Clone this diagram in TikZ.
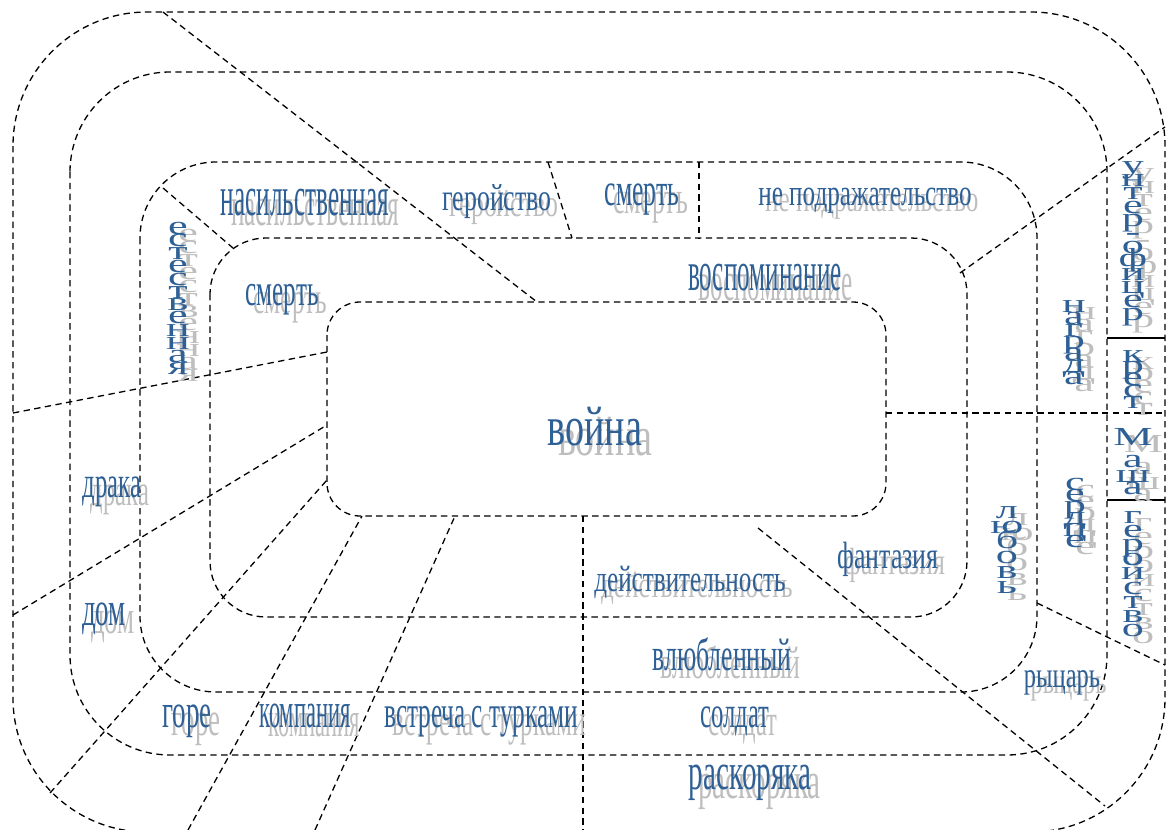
\documentclass[tikz,border=0pt]{standalone}
\usepackage{fontspec}
\usepackage{graphicx}
\setmainfont{Liberation Serif}
\newfontfamily\narrowfont[FakeStretch=0.45]{Liberation Serif}
\newfontfamily\condfont[FakeStretch=0.56]{Liberation Serif}
\newfontfamily\midfont[FakeStretch=0.68]{Liberation Serif}
\definecolor{wordblue}{RGB}{46,96,150}
\definecolor{shadowgray}{RGB}{190,190,190}

\newcommand{\shadowed}[1]{\rlap{\hspace*{0.4ex}\raisebox{-0.4ex}[0pt][0pt]{\color{shadowgray}#1}}#1}
\newcommand{\vshadowed}[1]{\scalebox{1.7}[1]{\rlap{\hspace*{3pt}\raisebox{-3.5pt}[0pt][0pt]{\color{shadowgray}#1}}#1}}

\begin{document}
\begin{tikzpicture}[x=0.5pt,y=-0.5pt,
    word/.style 2 args={font=#1\fontsize{#2}{#2}\selectfont, text=wordblue, anchor=base, inner sep=0pt}]
    \tikzstyle{ring}=[draw=black, line width=0.65pt, dash pattern=on 3.2pt off 2.2pt]
    \tikzstyle{bar}=[draw=black, line width=1pt]
    \tikzstyle{vletter}=[font=\fontsize{13}{13}\selectfont, text=wordblue, anchor=base, inner sep=0pt]
    \useasboundingbox (0,0) rectangle (1174,830);

    % nested rings
    \foreach \l/\t/\r/\b/\rad in {13/12/1165/832/67, 70/72/1107/755/50, 140/162/1037/692/38, 210/238/967/617/28, 327/302/886/516/16.5}
        \draw[ring, rounded corners=\rad pt] (\l,\t) rectangle (\r,\b);

    % dividers
    \foreach \ax/\ay/\bx/\by in {163/12/537/302, 163/188/233/248, 13/413/327/352, 13/615/327/425,
            50/793/327/480, 188/830/362/516, 315/830/455/516, 583/516/583/830, 758/528/1105/806,
            1037/603/1165/665, 886/413/1165/413, 960/273/1165/127, 548/162/572/238, 699/162/699/238}
        \draw[ring] (\ax,\ay) -- (\bx,\by);
    \draw[bar] (1107,338) -- (1165,338);
    \draw[bar] (1107,500) -- (1165,500);

    % words
    \node[word={\midfont}{28}] (voyna) at (595,445) {\shadowed{война}};
    \node[word={\narrowfont}{28}] (nasil) at (305,215) {\shadowed{насильственная}};
    \node[word={\midfont}{19}] (geroy) at (497,210) {\shadowed{геройство}};
    \node[word={\condfont}{23}] (smert-top) at (642,205) {\shadowed{смерть}};
    \node[word={\midfont}{18.5}] (nepodr) at (865,205) {\shadowed{не подражательство}};
    \node[word={\narrowfont}{28}] (vospom) at (765,290) {\shadowed{воспоминание}};
    \node[word={\condfont}{22.5}] (smert-left) at (282,305) {\shadowed{смерть}};
    \node[word={\condfont}{22}] (draka) at (112,497) {\shadowed{драка}};
    \node[word={\condfont}{24}] (dom) at (104,625) {\shadowed{дом}};
    \node[word={\condfont}{24}] (gore) at (187,727) {\shadowed{горе}};
    \node[word={\narrowfont}{25}] (kompan) at (305,727) {\shadowed{компания}};
    \node[word={\condfont}{22.5}] (vstrecha) at (481,727) {\shadowed{встреча с турками}};
    \node[word={\condfont}{22}] (soldat) at (735,727) {\shadowed{солдат}};
    \node[word={\condfont}{26}] (raskor) at (750,789) {\shadowed{раскоряка}};
    \node[word={\condfont}{23}] (vlyubl) at (722,670) {\shadowed{влюбленный}};
    \node[word={\midfont}{18.5}] (deystv) at (690,591) {\shadowed{действительность}};
    \node[word={\midfont}{19}] (fantaz) at (888,568) {\shadowed{фантазия}};
    \node[word={\midfont}{18}] (rytsar) at (1062,687) {\shadowed{рыцарь}};

    % stacked words, one letter under the other
    \foreach \ch [count=\i] in {е,с,т,е,с,т,в,е,н,н,а,я}
        \node[vletter] (estestv-\i) at (178,221.2+\i*12.8) {\vshadowed{\ch}};
    \foreach \ch [count=\i] in {л,ю,б,о,в,ь}
        \node[vletter] (lyubov-\i) at (1007,503+\i*15) {\vshadowed{\ch}};
    \foreach \ch [count=\i] in {с,е,р,д,ц,е}
        \node[vletter] (serdtse-\i) at (1075,478.5+\i*11.5) {\vshadowed{\ch}};
    \foreach \ch [count=\i] in {н,а,г,р,а,д,а}
        \node[vletter] (nagrada-\i) at (1074,300+\i*12) {\vshadowed{\ch}};
    \foreach \ch [count=\i] in {у,н,т,е,р,-,о,ф,и,ц,е,р}
        \node[vletter] (unter-\i) at (1133,159.6+\i*13.4) {\vshadowed{\ch}};
    \foreach \ch [count=\i] in {к,р,е,с,т}
        \node[vletter] (krest-\i) at (1133,350.3+\i*11.7) {\vshadowed{\ch}};
    \foreach \ch/\y [count=\i] in {М/445,а/467,ш/482,а/494}
        \node[vletter] (masha-\i) at (1133,\y) {\vshadowed{\ch}};
    \foreach \ch [count=\i] in {г,е,р,о,й,с,т,в,о}
        \node[vletter] (geroy-right-\i) at (1133,508.8+\i*14.2) {\vshadowed{\ch}};
\end{tikzpicture}
\end{document}
